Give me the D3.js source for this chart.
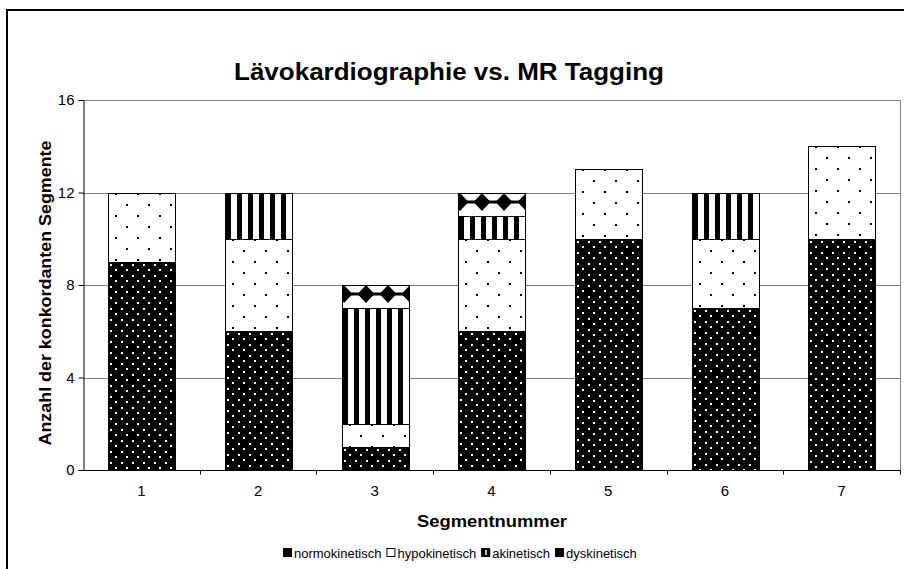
<!DOCTYPE html>
<html>
<head>
<meta charset="utf-8">
<script src="https://cdn.jsdelivr.net/npm/d3@7"></script>
<style>
  body { margin: 0; background: #fff; }
  text { font-family: "Liberation Sans", Arial, sans-serif; }
</style>
</head>
<body>
<div id="chart"></div>
<script>
// Chart values
const categories = ['1', '2', '3', '4', '5', '6', '7'];
const seriesNames = ['normokinetisch', 'hypokinetisch', 'akinetisch', 'dyskinetisch'];
const normokinetisch = [9, 6, 1, 6, 10, 7, 10];
const hypokinetisch = [3, 4, 1, 4, 3, 3, 4];
const akinetisch = [0, 2, 5, 1, 0, 2, 0];
const dyskinetisch = [0, 0, 1, 1, 0, 0, 0];
const yTicks = [0, 4, 8, 12, 16];

const w = 904, h = 569,
  plot = {left: 83, right: 900, top: 100, bottom: 470};

const rows = categories.map((c, i) => ({
  cat: c,
  normokinetisch: normokinetisch[i],
  hypokinetisch: hypokinetisch[i],
  akinetisch: akinetisch[i],
  dyskinetisch: dyskinetisch[i]
}));

const svg = d3.select('#chart').append('svg')
  .attr('width', w).attr('height', h);

const defs = svg.append('defs');

// Fill patterns (anchored at each segment's top-left corner)
let p = defs.append('pattern').attr('id', 'pat-normo')
  .attr('patternUnits', 'userSpaceOnUse').attr('width', 11).attr('height', 11)
  .attr('x', 0).attr('y', 0);
p.append('rect').attr('width', 11).attr('height', 11).attr('fill', '#000');
p.append('rect').attr('x', 2).attr('y', 2).attr('width', 2).attr('height', 2).attr('fill', '#fff');
p.append('rect').attr('x', 7).attr('y', 7).attr('width', 2).attr('height', 2).attr('fill', '#fff');

p = defs.append('pattern').attr('id', 'pat-hypo')
  .attr('patternUnits', 'userSpaceOnUse').attr('width', 22).attr('height', 22)
  .attr('x', 0).attr('y', 0);
p.append('rect').attr('width', 22).attr('height', 22).attr('fill', '#fff');
p.append('rect').attr('x', 7).attr('y', 0).attr('width', 2).attr('height', 2).attr('fill', '#000');
p.append('rect').attr('x', 18).attr('y', 11).attr('width', 2).attr('height', 2).attr('fill', '#000');

p = defs.append('pattern').attr('id', 'pat-aki')
  .attr('patternUnits', 'userSpaceOnUse').attr('width', 11).attr('height', 11)
  .attr('x', 1).attr('y', 0);
p.append('rect').attr('width', 11).attr('height', 11).attr('fill', '#fff');
p.append('rect').attr('x', 0).attr('width', 5).attr('height', 11).attr('fill', '#000');

p = defs.append('pattern').attr('id', 'pat-dysk')
  .attr('patternUnits', 'userSpaceOnUse').attr('width', 22).attr('height', 23)
  .attr('x', -9).attr('y', 0);
p.append('rect').attr('width', 22).attr('height', 23).attr('fill', '#fff');
p.append('path').attr('d', 'M11,0 L19.5,9 L11,18 L2.5,9 Z').attr('fill', '#000');
p.append('rect').attr('x', 0).attr('y', 7.5).attr('width', 22).attr('height', 3).attr('fill', '#000');

const fills = {
  normokinetisch: 'url(#pat-normo)',
  hypokinetisch: 'url(#pat-hypo)',
  akinetisch: 'url(#pat-aki)',
  dyskinetisch: 'url(#pat-dysk)'
};

// Outer chart frame
svg.append('rect')
  .attr('x', 7).attr('y', 10).attr('width', 910).attr('height', 580)
  .attr('fill', 'none').attr('stroke', '#000').attr('stroke-width', 2);

// Scales
const x = d3.scaleBand().domain(categories)
  .range([plot.left, plot.right]).paddingInner(0.43).paddingOuter(0.215);
const xCat = d3.scaleBand().domain(categories).range([plot.left, plot.right]);
const y = d3.scaleLinear().domain([0, 16]).range([plot.bottom, plot.top]);

// Gridlines
svg.append('g').selectAll('line').data(yTicks.filter(t => t > 0)).enter()
  .append('line')
  .attr('x1', plot.left).attr('x2', plot.right)
  .attr('y1', d => Math.round(y(d)) + 0.5).attr('y2', d => Math.round(y(d)) + 0.5)
  .attr('stroke', '#808080').attr('stroke-width', 1);

// Plot area right border
svg.append('line')
  .attr('x1', plot.right + 0.5).attr('x2', plot.right + 0.5)
  .attr('y1', y(16)).attr('y2', y(0))
  .attr('stroke', '#808080');

// Stacked bars
const stack = d3.stack().keys(seriesNames)(rows);
const layers = svg.append('g').selectAll('g.layer').data(stack).enter()
  .append('g').attr('class', 'layer');

layers.selectAll('g.seg')
  .data(s => s.map(d => ({key: s.key, d: d})).filter(o => o.d[1] > o.d[0]))
  .enter().append('g').attr('class', 'seg')
  .attr('transform', o => 'translate(' + Math.round(x(o.d.data.cat)) + ',' + Math.round(y(o.d[1])) + ')')
  .append('rect')
  .attr('x', 0).attr('y', 0)
  .attr('width', Math.round(x.bandwidth()))
  .attr('height', o => Math.round(y(o.d[0])) - Math.round(y(o.d[1])))
  .attr('fill', o => fills[o.key])
  .attr('stroke', '#000').attr('stroke-width', 1)
  .attr('shape-rendering', 'crispEdges');

// Y axis
const yAxis = svg.append('g')
  .attr('transform', 'translate(' + (plot.left + 0.5) + ',0)')
  .call(d3.axisLeft(y).tickValues(yTicks).tickSize(5).tickPadding(4));
yAxis.selectAll('text').attr('font-size', 15).attr('fill', '#000')
  .style('font-family', '"Liberation Sans", Arial, sans-serif');
yAxis.selectAll('line, path').attr('stroke', '#000');

// X axis: ticks between categories
const xAxis = svg.append('g')
  .attr('transform', 'translate(0,' + (plot.bottom + 0.5) + ')');
xAxis.append('line').attr('x1', plot.left).attr('x2', plot.right + 1)
  .attr('stroke', '#000');
xAxis.selectAll('line.tick').data(categories.slice(1)).enter()
  .append('line').attr('class', 'tick')
  .attr('x1', d => Math.round(xCat(d)) + 0.5).attr('x2', d => Math.round(xCat(d)) + 0.5)
  .attr('y1', 0).attr('y2', 4).attr('stroke', '#000');
xAxis.append('line').attr('x1', plot.right + 0.5).attr('x2', plot.right + 0.5)
  .attr('y1', 0).attr('y2', 4).attr('stroke', '#000');
xAxis.selectAll('text').data(categories).enter()
  .append('text')
  .attr('x', d => xCat(d) + xCat.bandwidth() / 2)
  .attr('y', 25)
  .attr('text-anchor', 'middle').attr('font-size', 15)
  .text(d => d);

// Title and axis titles
svg.append('text')
  .attr('x', 449).attr('y', 80)
  .attr('text-anchor', 'middle').attr('font-size', 23).attr('font-weight', 'bold')
  .attr('textLength', 430).attr('lengthAdjust', 'spacingAndGlyphs')
  .text('Lävokardiographie vs. MR Tagging');

svg.append('text')
  .attr('x', 492).attr('y', 527)
  .attr('text-anchor', 'middle').attr('font-size', 16).attr('font-weight', 'bold')
  .attr('textLength', 150).attr('lengthAdjust', 'spacingAndGlyphs')
  .text('Segmentnummer');

svg.append('text')
  .attr('transform', 'translate(51,293) rotate(-90)')
  .attr('text-anchor', 'middle').attr('font-size', 16).attr('font-weight', 'bold')
  .attr('textLength', 305).attr('lengthAdjust', 'spacingAndGlyphs')
  .text('Anzahl der konkordanten Segmente');

// Legend
const legend = svg.append('g').attr('transform', 'translate(283,553)');
let lx = 0;
const markerFill = {
  normokinetisch: '#000', hypokinetisch: '#fff', akinetisch: '#000', dyskinetisch: '#000'
};
seriesNames.forEach(name => {
  const item = legend.append('g').attr('transform', 'translate(' + lx + ',0)');
  item.append('rect').attr('x', 0.5).attr('y', -4.5).attr('width', 8).attr('height', 8)
    .attr('fill', markerFill[name]).attr('stroke', '#000');
  if (name === 'akinetisch') {
    item.append('rect').attr('x', 4).attr('y', -3).attr('width', 1.5).attr('height', 5).attr('fill', '#fff');
  }
  const t = item.append('text').attr('x', 11).attr('y', 4.5)
    .attr('font-size', 13).text(name);
  lx += 11 + t.node().getComputedTextLength() + 5;
});
</script>
</body>
</html>
